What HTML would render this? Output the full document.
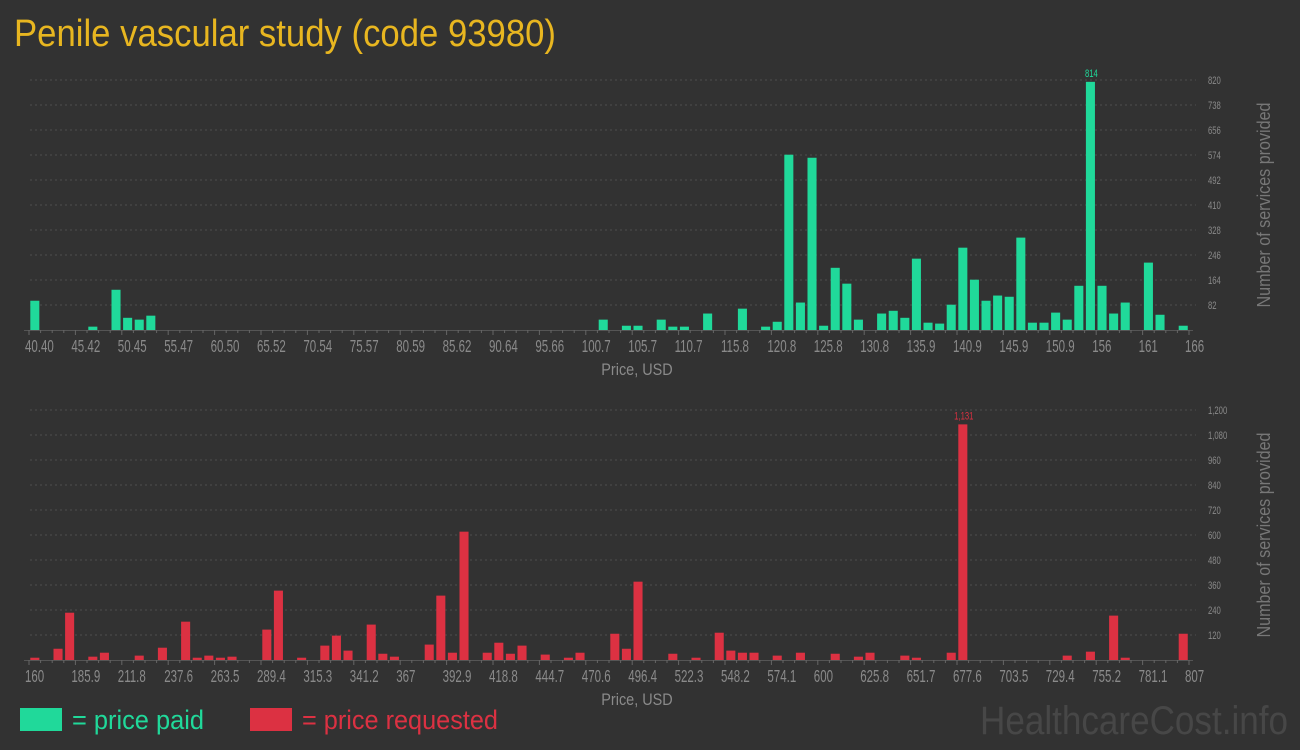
<!DOCTYPE html>
<html><head><meta charset="utf-8"><style>
html,body{margin:0;padding:0;background:#323232;}
svg{display:block;font-family:"Liberation Sans Narrow","Liberation Sans",sans-serif;}
</style></head><body>
<svg id="c" width="1300" height="750" viewBox="0 0 1300 750">
<rect width="1300" height="750" fill="#323232"/>
<text x="14" y="46" font-size="38" fill="#e8b620" textLength="542" lengthAdjust="spacingAndGlyphs">Penile vascular study (code 93980)</text>
<rect x="20" y="708" width="42" height="23" fill="#20d99a"/>
<text x="72" y="729" font-size="27" fill="#20d99a" textLength="132" lengthAdjust="spacingAndGlyphs">= price paid</text>
<rect x="250" y="708" width="42" height="23" fill="#dc3142"/>
<text x="302" y="729" font-size="27" fill="#dc3142" textLength="196" lengthAdjust="spacingAndGlyphs">= price requested</text>
<text x="1288" y="734" font-size="40" fill="#474747" text-anchor="end" textLength="308" lengthAdjust="spacingAndGlyphs">HealthcareCost.info</text>
</svg>
<script>
// Top chart data (bin index -> count)
const paidBins = [0,5,7,8,9,10,49,51,52,54,55,56,58,61,63,64,65,66,67,68,69,70,71,73,74,75,76,77,78,79,80,81,82,83,84,85,86,87,88,89,90,91,92,93,94,96,97,99];
const paidValues = [96,11,132,40,34,47,34,14,14,34,11,11,54,70,11,27,575,90,565,14,204,152,34,54,63,40,234,24,21,83,270,165,96,113,109,303,24,24,57,34,145,814,145,54,90,221,50,14];
const paidXTicks = ["40.40","45.42","50.45","55.47","60.50","65.52","70.54","75.57","80.59","85.62","90.64","95.66","100.7","105.7","110.7","115.8","120.8","125.8","130.8","135.9","140.9","145.9","150.9","156","161","166"];
const paidYTicks = [82,164,246,328,410,492,574,656,738,820];
// Bottom chart data
const reqBins = [0,2,3,5,6,9,11,13,14,15,16,17,20,21,23,25,26,27,29,30,31,34,35,36,37,39,40,41,42,44,46,47,50,51,52,55,57,59,60,61,62,64,66,69,71,72,75,76,79,80,89,91,93,94,99];
const reqValues = [11,54,227,16,35,21,59,184,11,21,11,16,146,333,11,69,117,45,170,30,16,74,309,35,616,35,83,30,69,26,11,35,126,54,376,30,11,131,45,35,35,21,35,30,16,35,21,11,35,1131,21,40,213,11,126];
const reqXTicks = ["160","185.9","211.8","237.6","263.5","289.4","315.3","341.2","367","392.9","418.8","444.7","470.6","496.4","522.3","548.2","574.1","600","625.8","651.7","677.6","703.5","729.4","755.2","781.1","807"];
const reqYTicks = [120,240,360,480,600,720,840,960,1080,1200];

const NS="http://www.w3.org/2000/svg";
const svg=document.getElementById('c');
function mk(tag,attrs,parent){const e=document.createElementNS(NS,tag);for(const k in attrs)e.setAttribute(k,attrs[k]);(parent||svg).appendChild(e);return e;}

function drawChart(opt){
  const x0=29,x1=1189,nb=100,slot=(x1-x0)/nb;
  const yb=opt.yBase,yt=opt.yTop,ymax=opt.yTicks[opt.yTicks.length-1];
  const xs=i=>x0+slot*i;
  const ys=v=>yb-(v/ymax)*(yb-yt);
  const g=mk('g',{});
  
  
  opt.yTicks.forEach(t=>{
    const l=mk('line',{x1:30,x2:1196,y1:ys(t),y2:ys(t),stroke:'#4d4d4d','stroke-width':1,'stroke-dasharray':'2,3'},g);
    
    
    const tx=mk('text',{x:1208,y:ys(t)+4,'font-size':11,fill:'#8a8a8a',transform:`translate(1208 0) scale(0.7 1) translate(-1208 0)`},g);
    tx.textContent=t.toLocaleString('en-US');
    
    
  });
  const ax=mk('line',{x1:x0-5,x2:x1+4,y1:yb+0.5,y2:yb+0.5,stroke:'#555','stroke-width':1},g);
  
  
  for(let i=0;i<=nb;i++){
    const tk=mk('line',{x1:xs(i),x2:xs(i),y1:yb,y2:yb+(i%4===0?5:3),stroke:'#666','stroke-width':1},g);
    
    
  }
  opt.xTicks.forEach((lab,k)=>{
    const lx=xs(k*4)-4;
    const t=mk('text',{x:lx,y:yb+22,'font-size':18,fill:'#8a8a8a',transform:`translate(${lx} 0) scale(0.64 1) translate(${-lx} 0)`},g);
    t.textContent=lab;
    
    
  });
  let maxI=0;
  opt.bins.forEach((b,k)=>{
    const v=opt.values[k];
    if(v>opt.values[maxI])maxI=k;
    const r=mk('rect',{x:xs(b)+1.3,y:ys(v),width:slot*0.78,height:yb-ys(v),fill:opt.color},g);
    
    
  });
  const pv=opt.values[maxI];
  const px=xs(opt.bins[maxI])+slot/2+1;
  const pl=mk('text',{x:px,y:ys(pv)-5,'font-size':11,fill:opt.color,'text-anchor':'middle',transform:`translate(${px} 0) scale(0.7 1) translate(${-px} 0)`},g);
  pl.textContent=pv.toLocaleString('en-US');
  
  
  const xt=mk('text',{x:637,y:yb+45,'font-size':17,fill:'#8a8a8a','text-anchor':'middle',transform:`translate(637 0) scale(0.85 1) translate(-637 0)`},g);
  xt.textContent='Price, USD';
  
  
  const cy=(yb+yt)/2;
  const yt2=mk('text',{x:1270,y:cy,'font-size':18,fill:'#777','text-anchor':'middle',textLength:205,lengthAdjust:'spacingAndGlyphs',transform:`rotate(-90 1270 ${cy})`},g);
  yt2.textContent='Number of services provided';
  
  
}
drawChart({name:'price-paid-chart',bins:paidBins,values:paidValues,xTicks:paidXTicks,yTicks:paidYTicks,yBase:330,yTop:80,color:'#20d99a'});
drawChart({name:'price-requested-chart',bins:reqBins,values:reqValues,xTicks:reqXTicks,yTicks:reqYTicks,yBase:660,yTop:410,color:'#dc3142'});
</script>
</body></html>
